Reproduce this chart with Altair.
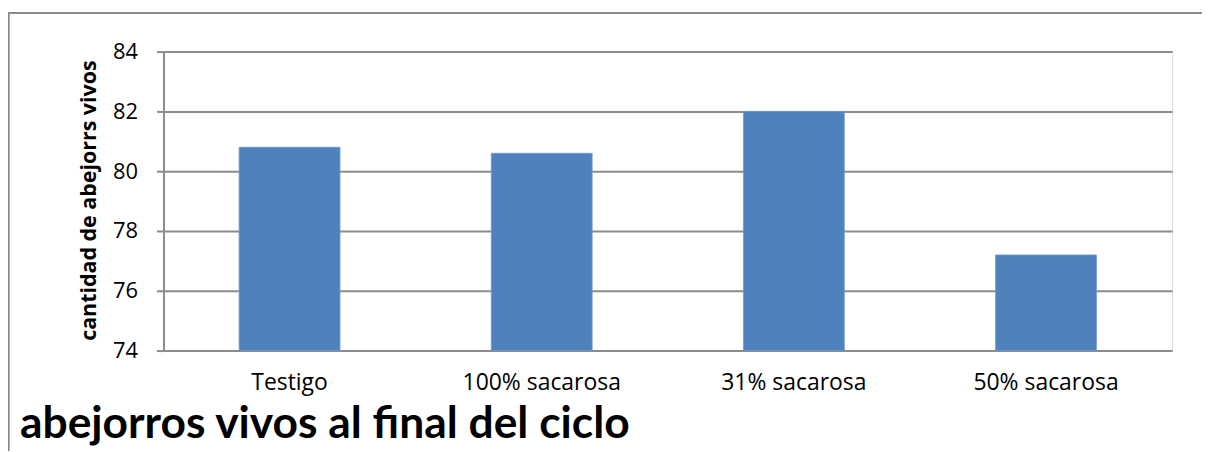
import altair as alt
import pandas as pd

categories = ["Testigo", "100% sacarosa", "31% sacarosa", "50% sacarosa"]
values = [80.8, 80.6, 82.0, 77.2]
y_ticks = [74, 76, 78, 80, 82, 84]
y_base = 74
chart_title = "abejorros vivos al final del ciclo"

df = pd.DataFrame({"cat": categories, "val": values})

FONT = "Open Sans"
GRID = "#8c8c8c"

bars = alt.Chart(df).mark_bar(color="#4F81BD", stroke="#6f9bd1", strokeWidth=0.8).encode(
    x=alt.X("cat:N", sort=categories,
            scale=alt.Scale(paddingInner=0.6, paddingOuter=0.3),
            axis=alt.Axis(title=None, labelAngle=0, labelFontSize=23, labelFont=FONT,
                          labelColor="#000000", labelPadding=21, ticks=False,
                          domain=False, grid=False)),
    y=alt.Y("val:Q", scale=alt.Scale(domain=[74, 84], nice=False, zero=False),
            axis=alt.Axis(values=y_ticks, title="cantidad de abejorrs vivos",
                          titleFont=FONT, titleFontSize=21.5, titleFontWeight="bold",
                          titleColor="#000000", titleAngle=-90, titleX=-74, titleY=149,
                          titleAlign="center", titleBaseline="middle",
                          labelFont=FONT, labelFontSize=22, labelColor="#000000",
                          labelPadding=19, tickSize=7, tickColor=GRID, tickWidth=2,
                          domainColor=GRID, domainWidth=2,
                          grid=True, gridColor=GRID, gridWidth=2)),
    y2=alt.datum(y_base),
)

frame = alt.Chart(df).mark_rect(fill=None, stroke="#888888", strokeWidth=1.5).encode(
    x=alt.value(-155.5), y=alt.value(-39), x2=alt.value(1100), y2=alt.value(460)
)

title_text = alt.Chart(pd.DataFrame({"t": [chart_title]})).mark_text(
    align="left", baseline="alphabetic", fontSize=44.5, font="Lato", fontWeight="bold",
    color="#000000"
).encode(x=alt.value(-144), y=alt.value(388), text="t:N")

chart = alt.layer(frame, bars, title_text).properties(
    width=1012, height=300,
    autosize=alt.AutoSizeParams(type="none"),
    padding={"left": 156, "top": 43, "right": 30, "bottom": 100},
).configure_view(stroke=None).configure(background="white")

chart.save("out.html", embed_options={"renderer": "svg", "actions": False})
